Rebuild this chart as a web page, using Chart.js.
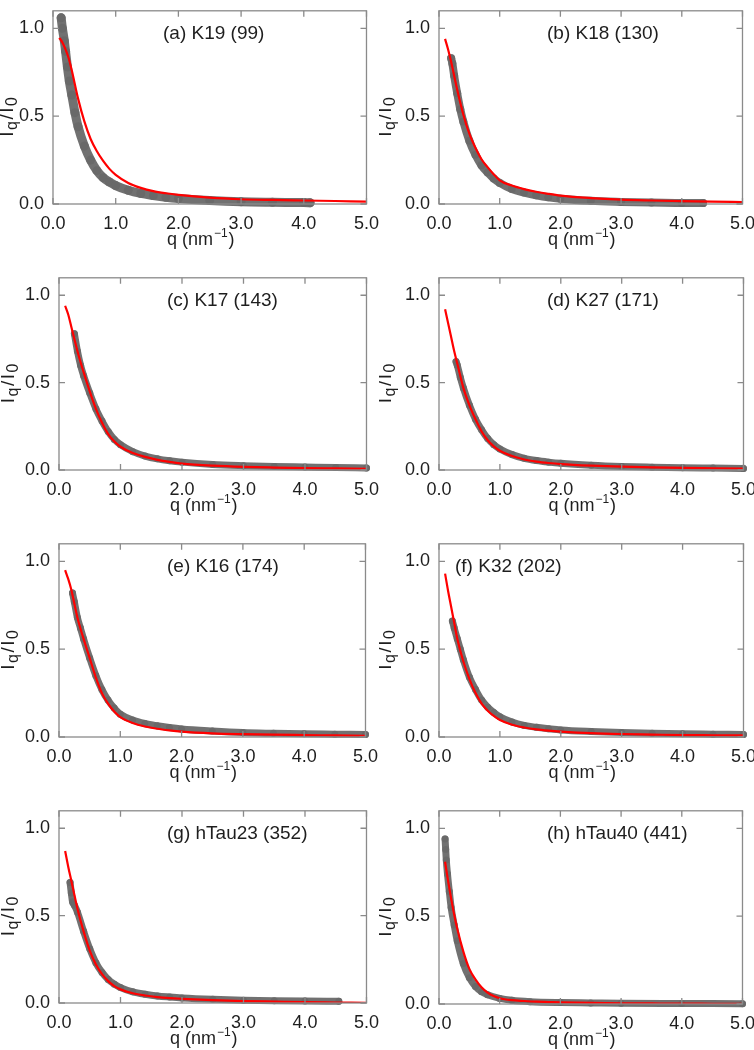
<!DOCTYPE html>
<html>
<head>
<meta charset="utf-8">
<script src="https://cdn.jsdelivr.net/npm/chart.js@4.4.1/dist/chart.umd.min.js"></script>
<style>
  html, body { margin: 0; padding: 0; background: #fff; }
  #page { position: relative; width: 754px; height: 1050px; overflow: hidden; }
  canvas { position: absolute; }
</style>
</head>
<body>
<div id="page"></div>
<script>
// Panel titles and axis ticks
const titles = ['(a) K19 (99)', '(b) K18 (130)', '(c) K17 (143)', '(d) K27 (171)',
                '(e) K16 (174)', '(f) K32 (202)', '(g) hTau23 (352)', '(h) hTau40 (441)'];
const xTicks = [0, 1, 2, 3, 4, 5];
const yTicks = [0, 0.5, 1.0];

// Fit curves (red), common q grid
const fitQ = [0.1, 0.15, 0.2, 0.25, 0.3, 0.4, 0.5, 0.6, 0.7, 0.8, 0.9, 1.0, 1.2, 1.4, 1.6, 1.8, 2.0, 2.5, 3.0, 3.5, 4.0, 4.5, 5.0];
const fitA = [0.946, 0.92, 0.88, 0.83, 0.76, 0.60, 0.47, 0.37, 0.30, 0.245, 0.20, 0.166, 0.12, 0.092, 0.073, 0.061, 0.052, 0.036, 0.027, 0.023, 0.020, 0.017, 0.014];
const fitB = [0.94, 0.88, 0.81, 0.73, 0.65, 0.51, 0.40, 0.32, 0.255, 0.21, 0.17, 0.135, 0.105, 0.085, 0.07, 0.058, 0.048, 0.034, 0.025, 0.020, 0.016, 0.013, 0.011];
const fitC = [0.94, 0.89, 0.82, 0.75, 0.68, 0.56, 0.45, 0.35, 0.27, 0.205, 0.163, 0.133, 0.097, 0.075, 0.058, 0.046, 0.037, 0.025, 0.018, 0.014, 0.011, 0.009, 0.007];
const fitD = [0.92, 0.84, 0.76, 0.68, 0.61, 0.47, 0.37, 0.29, 0.22, 0.17, 0.135, 0.11, 0.08, 0.06, 0.048, 0.04, 0.034, 0.025, 0.019, 0.015, 0.012, 0.010, 0.008];
const fitE = [0.95, 0.90, 0.84, 0.76, 0.68, 0.56, 0.45, 0.34, 0.25, 0.19, 0.145, 0.113, 0.08, 0.06, 0.047, 0.038, 0.031, 0.021, 0.016, 0.013, 0.011, 0.009, 0.007];
const fitF = [0.93, 0.83, 0.74, 0.65, 0.56, 0.43, 0.33, 0.25, 0.19, 0.15, 0.12, 0.097, 0.07, 0.054, 0.043, 0.036, 0.031, 0.022, 0.017, 0.014, 0.011, 0.010, 0.009];
const fitG = [0.87, 0.78, 0.70, 0.62, 0.54, 0.41, 0.30, 0.22, 0.165, 0.125, 0.097, 0.078, 0.056, 0.043, 0.034, 0.028, 0.024, 0.016, 0.011, 0.008, 0.005, 0.003, 0.001];
const fitH = [0.81, 0.70, 0.60, 0.51, 0.43, 0.30, 0.20, 0.14, 0.095, 0.065, 0.045, 0.033, 0.022, 0.017, 0.013, 0.011, 0.009, 0.006, 0.004, 0.003, 0.002, 0.0015, 0.001];

// Measured data (grey)
const qA = [0.13, 0.15, 0.18, 0.2, 0.23, 0.26, 0.3, 0.35, 0.4, 0.5, 0.6, 0.7, 0.8, 0.9, 1.0, 1.2, 1.4, 1.6, 1.8, 2.0, 2.5, 3.0, 3.5, 4.0, 4.1];
const iA = [1.06, 1.0, 0.93, 0.87, 0.78, 0.70, 0.62, 0.52, 0.44, 0.33, 0.25, 0.19, 0.15, 0.125, 0.105, 0.078, 0.06, 0.048, 0.038, 0.031, 0.02, 0.013, 0.01, 0.008, 0.007];
const qB = [0.2, 0.22, 0.25, 0.3, 0.35, 0.4, 0.5, 0.6, 0.7, 0.8, 0.9, 1.0, 1.2, 1.4, 1.6, 1.8, 2.0, 2.5, 3.0, 3.5, 4.0, 4.35];
const iB = [0.83, 0.80, 0.73, 0.63, 0.54, 0.47, 0.36, 0.28, 0.22, 0.18, 0.145, 0.12, 0.085, 0.065, 0.05, 0.038, 0.03, 0.018, 0.012, 0.008, 0.006, 0.005];
const qC = [0.25, 0.3, 0.35, 0.4, 0.5, 0.6, 0.7, 0.8, 0.9, 1.0, 1.2, 1.4, 1.6, 1.8, 2.0, 2.5, 3.0, 3.5, 4.0, 4.5, 5.0];
const iC = [0.78, 0.68, 0.60, 0.54, 0.44, 0.35, 0.28, 0.22, 0.175, 0.145, 0.105, 0.08, 0.064, 0.053, 0.045, 0.032, 0.025, 0.02, 0.017, 0.014, 0.012];
const qD = [0.28, 0.3, 0.35, 0.4, 0.5, 0.6, 0.7, 0.8, 0.9, 1.0, 1.2, 1.4, 1.6, 1.8, 2.0, 2.5, 3.0, 3.5, 4.0, 4.5, 5.0];
const iD = [0.62, 0.60, 0.53, 0.47, 0.37, 0.29, 0.23, 0.18, 0.145, 0.12, 0.088, 0.067, 0.054, 0.045, 0.038, 0.027, 0.02, 0.016, 0.013, 0.011, 0.009];
const qE = [0.22, 0.25, 0.3, 0.35, 0.4, 0.5, 0.6, 0.7, 0.8, 0.9, 1.0, 1.2, 1.4, 1.6, 1.8, 2.0, 2.5, 3.0, 3.5, 4.0, 4.5, 5.0];
const iE = [0.82, 0.77, 0.68, 0.62, 0.56, 0.45, 0.35, 0.27, 0.21, 0.165, 0.13, 0.097, 0.077, 0.064, 0.054, 0.046, 0.034, 0.025, 0.021, 0.018, 0.016, 0.014];
const qF = [0.22, 0.25, 0.3, 0.35, 0.4, 0.5, 0.6, 0.7, 0.8, 0.9, 1.0, 1.2, 1.4, 1.6, 1.8, 2.0, 2.5, 3.0, 3.5, 4.0, 4.5, 5.0];
const iF = [0.66, 0.62, 0.56, 0.50, 0.44, 0.34, 0.27, 0.21, 0.17, 0.14, 0.115, 0.085, 0.066, 0.055, 0.047, 0.04, 0.031, 0.025, 0.021, 0.018, 0.016, 0.014];
const qG = [0.18, 0.2, 0.22, 0.25, 0.3, 0.4, 0.5, 0.6, 0.7, 0.8, 0.9, 1.0, 1.2, 1.4, 1.6, 1.8, 2.0, 2.5, 3.0, 3.5, 4.0, 4.55];
const iG = [0.69, 0.63, 0.58, 0.56, 0.52, 0.41, 0.31, 0.23, 0.175, 0.135, 0.108, 0.088, 0.064, 0.05, 0.04, 0.034, 0.029, 0.021, 0.016, 0.013, 0.011, 0.01];
const qH = [0.1, 0.11, 0.12, 0.14, 0.17, 0.2, 0.25, 0.3, 0.4, 0.5, 0.6, 0.7, 0.8, 1.0, 1.2, 1.5, 2.0, 2.5, 3.0, 4.0, 5.0];
const iH = [0.94, 0.88, 0.82, 0.74, 0.64, 0.55, 0.45, 0.36, 0.23, 0.15, 0.10, 0.07, 0.052, 0.032, 0.021, 0.013, 0.008, 0.006, 0.004, 0.003, 0.002];

// plot boxes in page pixels: [left, top, right, bottom]; ylab = page x of the y-label baseline
const panels = [
  { q: qA, I: iA, fit: fitA, box: [53, 1, 368, 204], titleDx: 110, band: 9, ylab: 13 },
  { q: qB, I: iB, fit: fitB, box: [439, 1, 744, 204], titleDx: 108, band: 8, ylab: 391 },
  { q: qC, I: iC, fit: fitC, box: [59, 268, 368, 470], titleDx: 108, band: 7, ylab: 14 },
  { q: qD, I: iD, fit: fitD, box: [439, 268, 745, 470], titleDx: 108, band: 7, ylab: 391 },
  { q: qE, I: iE, fit: fitE, box: [59, 534, 367, 737], titleDx: 108, band: 7, ylab: 14 },
  { q: qF, I: iF, fit: fitF, box: [439, 534, 745, 737], titleDx: 16, band: 7, ylab: 391 },
  { q: qG, I: iG, fit: fitG, box: [59, 801, 368, 1003], titleDx: 108, band: 7, ylab: 14 },
  { q: qH, I: iH, fit: fitH, box: [439, 801, 744, 1004], titleDx: 108, band: 7, ylab: 391 }
];

const FONT = '"Liberation Sans", Arial, sans-serif';
const TEXT = '#1e1e1e';
const FRAME = '#8a8a8a';
const PADL = 60, PADT = 10, PADR = 20, PADB = 62;

// frame, inward ticks, title and axis labels
const decor = {
  id: 'decor',
  afterDraw(chart, args, opts) {
    const { ctx, chartArea: a } = chart;
    const xs = chart.scales.x, ys = chart.scales.y;
    ctx.save();
    ctx.strokeStyle = FRAME;
    ctx.lineWidth = 1.3;
    ctx.strokeRect(a.left, a.top, a.right - a.left, a.bottom - a.top);
    ctx.beginPath();
    xTicks.forEach(v => {
      const px = xs.getPixelForValue(v);
      ctx.moveTo(px, a.bottom); ctx.lineTo(px, a.bottom - 6);
      ctx.moveTo(px, a.top); ctx.lineTo(px, a.top + 6);
    });
    yTicks.forEach(v => {
      const py = ys.getPixelForValue(v);
      ctx.moveTo(a.left, py); ctx.lineTo(a.left + 6, py);
      ctx.moveTo(a.right, py); ctx.lineTo(a.right - 6, py);
    });
    ctx.stroke();

    ctx.fillStyle = TEXT;
    // panel title
    ctx.font = '19px ' + FONT;
    ctx.textBaseline = 'middle';
    ctx.textAlign = 'left';
    ctx.fillText(opts.title, a.left + opts.titleDx, ys.getPixelForValue(1.0) + 5);

    // x label: q (nm^-1)
    const big = '18px ' + FONT, small = '12px ' + FONT;
    ctx.textBaseline = 'alphabetic';
    ctx.font = big; const w1 = ctx.measureText('q (nm').width;
    ctx.font = small; const w2 = ctx.measureText('\u22121').width;
    ctx.font = big; const w3 = ctx.measureText(')').width;
    let x0 = (a.left + a.right) / 2 - 10 - (w1 + w2 + w3) / 2;
    const yb = a.bottom + 41;
    ctx.font = big; ctx.fillText('q (nm', x0, yb);
    ctx.font = small; ctx.fillText('\u22121', x0 + w1 + 1, yb - 8);
    ctx.font = big; ctx.fillText(')', x0 + w1 + w2 + 2, yb);

    // y label: I_q / I_0
    ctx.save();
    ctx.translate(a.left - opts.ylabDx, ys.getPixelForValue(0.5));
    ctx.rotate(-Math.PI / 2);
    const yBig = '19px ' + FONT, ySmall = '16px ' + FONT;
    const parts = [['I', yBig, 0], ['q', ySmall, 4], ['/', yBig, 0], ['I', yBig, 0], ['0', ySmall, 4]];
    let tot = 0;
    parts.forEach(p => { ctx.font = p[1]; tot += ctx.measureText(p[0]).width + 1.5; });
    let cx = -tot / 2;
    parts.forEach(p => {
      ctx.font = p[1];
      ctx.fillText(p[0], cx, p[2]);
      cx += ctx.measureText(p[0]).width + 1.5;
    });
    ctx.restore();
    ctx.restore();
  }
};

const page = document.getElementById('page');

panels.forEach((p, i) => {
  const [l, t, r, b] = p.box;
  const canvas = document.createElement('canvas');
  const w = r - l + PADL + PADR, h = b - t + PADT + PADB;
  canvas.width = w; canvas.height = h;
  canvas.style.left = (l - PADL) + 'px';
  canvas.style.top = (t - PADT) + 'px';
  canvas.style.width = w + 'px';
  canvas.style.height = h + 'px';
  page.appendChild(canvas);

  new Chart(canvas.getContext('2d'), {
    type: 'scatter',
    data: {
      datasets: [{
        label: 'fit',
        data: fitQ.map((q, k) => ({ x: q, y: p.fit[k] })),
        showLine: true,
        borderColor: '#ff0000',
        borderWidth: 2.2,
        pointRadius: 0,
        cubicInterpolationMode: 'monotone',
        order: 0
      }, {
        label: 'data',
        data: p.q.map((q, k) => ({ x: q, y: p.I[k] })),
        showLine: true,
        borderColor: 'rgba(105,105,105,0.95)',
        backgroundColor: 'rgba(105,105,105,0.95)',
        borderWidth: p.band,
        borderCapStyle: 'round',
        borderJoinStyle: 'round',
        pointRadius: p.band / 2,
        pointBorderWidth: 0,
        cubicInterpolationMode: 'monotone',
        clip: false,
        order: 1
      }]
    },
    options: {
      responsive: false,
      animation: false,
      events: [],
      layout: { padding: { top: PADT, right: PADR, left: 0, bottom: 0 } },
      plugins: {
        legend: { display: false },
        tooltip: { enabled: false },
        decor: { title: titles[i], titleDx: p.titleDx, ylabDx: l - p.ylab }
      },
      scales: {
        x: {
          type: 'linear', min: 0, max: 5,
          afterBuildTicks: s => { s.ticks = xTicks.map(v => ({ value: v })); },
          afterFit: s => { s.height = PADB; },
          grid: { display: false, drawTicks: false },
          border: { display: false },
          ticks: { padding: 9, color: TEXT, font: { family: FONT, size: 18 },
                   maxRotation: 0, callback: v => v.toFixed(1) }
        },
        y: {
          type: 'linear', min: 0, max: 1.1,
          afterBuildTicks: s => { s.ticks = yTicks.map(v => ({ value: v })); },
          afterFit: s => { s.width = PADL; },
          grid: { display: false, drawTicks: false },
          border: { display: false },
          ticks: { padding: 9, color: TEXT, font: { family: FONT, size: 18 },
                   callback: v => v.toFixed(1) }
        }
      }
    },
    plugins: [decor]
  });
});
</script>
</body>
</html>
